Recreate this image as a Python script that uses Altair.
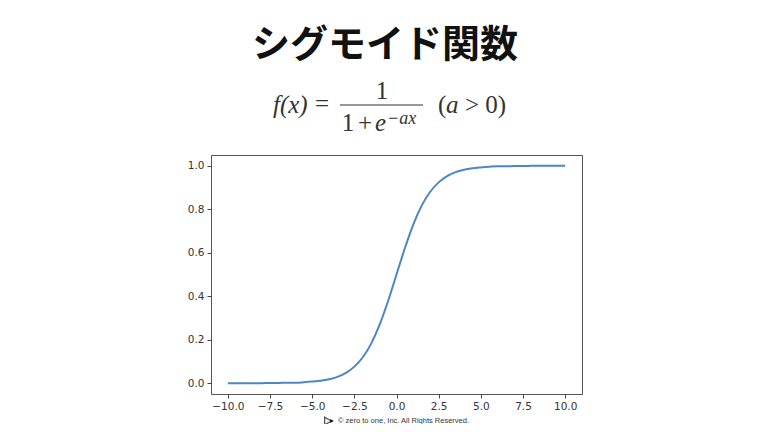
import altair as alt
import pandas as pd

# values
x_vals = [-10, -9.5, -9, -8.5, -8, -7.5, -7, -6.5, -6, -5.5, -5, -4.5, -4, -3.5, -3,
          -2.5, -2, -1.5, -1, -0.5, 0, 0.5, 1, 1.5, 2, 2.5, 3, 3.5, 4, 4.5, 5,
          5.5, 6, 6.5, 7, 7.5, 8, 8.5, 9, 9.5, 10]
y_vals = [0.000, 0.000, 0.000, 0.000, 0.000, 0.001, 0.001, 0.002, 0.002, 0.004, 0.007,
          0.011, 0.018, 0.029, 0.047, 0.076, 0.119, 0.182, 0.269, 0.378, 0.500,
          0.622, 0.731, 0.818, 0.881, 0.924, 0.953, 0.971, 0.982, 0.989, 0.993,
          0.996, 0.998, 0.998, 0.999, 0.999, 1.000, 1.000, 1.000, 1.000, 1.000]
x_ticks = [-10, -7.5, -5, -2.5, 0, 2.5, 5, 7.5, 10]
y_ticks = [0.0, 0.2, 0.4, 0.6, 0.8, 1.0]
title_text = "シグモイド関数"
footer_text = "©  zero to one, Inc. All Rights Reserved."

df = pd.DataFrame({"x": x_vals, "y": y_vals})

W, H = 371, 239

line = alt.Chart(df).mark_line(color="#4a86c8", strokeWidth=2, interpolate="monotone").encode(
    x=alt.X("x:Q", scale=alt.Scale(domain=[-11, 11], nice=False, zero=False),
            axis=alt.Axis(values=x_ticks, format=".1f", title=None,
                          labelExpr="replace(format(datum.value, '.1f'), '-', '\u2212')")),
    y=alt.Y("y:Q", scale=alt.Scale(domain=[-0.05, 1.05], nice=False, zero=False),
            axis=alt.Axis(values=y_ticks, format=".1f", title=None)),
)

one = pd.DataFrame({"a": [0]})


def txt(text, x, y, size, font="Liberation Serif", style="normal", weight="normal",
        align="left", color="#333333"):
    return alt.Chart(one).mark_text(
        text=text, font=font, fontSize=size, fontStyle=style, fontWeight=weight,
        align=align, baseline="alphabetic", color=color,
    ).encode(x=alt.value(x), y=alt.value(y))


FS = 25
title = txt(title_text, 174, -98, 38, font="Noto Sans CJK JP", weight="bold",
            align="center", color="#111111")

f_part = txt("f(x)", 62, -42, FS, style="italic")
eq = txt("=", 111, -43, FS, align="center")
num = txt("1", 171, -56, FS, align="center")
bar = alt.Chart(one).mark_rule(color="#333333", strokeWidth=1.2).encode(
    x=alt.value(129), x2=alt.value(212), y=alt.value(-50))
den1 = txt("1", 137, -24, FS, align="center")
den_plus = txt("+", 154, -24, FS, align="center")
den_e = txt("e", 164, -24, FS, style="italic")
sup = txt("\u2212ax", 176, -31, 18, style="italic")
p1 = txt("(", 227, -42, FS)
pa = txt("a", 235, -42, FS, style="italic")
p2 = txt("> 0)", 254, -42, FS)

logo_o = alt.Chart(one).mark_point(shape="triangle-right", filled=False, stroke="#111111",
                                   strokeWidth=1.3, size=60).encode(
    x=alt.value(117), y=alt.value(266))
logo_f = alt.Chart(one).mark_point(shape="triangle-right", filled=True, color="#111111",
                                   size=18, opacity=1).encode(
    x=alt.value(121), y=alt.value(266))
footer = txt(footer_text, 127, 268, 7.5, font="Liberation Sans", color="#333333")

chart = alt.layer(
    line, title, f_part, eq, num, bar, den1, den_plus, den_e, sup, p1, pa, p2,
    logo_o, logo_f, footer
).properties(
    width=W, height=H,
    autosize=alt.AutoSizeParams(type="none"),
    padding={"left": 203, "top": 147, "right": 178, "bottom": 30},
).configure_view(
    stroke="#555555", strokeWidth=1
).configure_axis(
    grid=False, domain=False, labelFont="DejaVu Sans", labelFontSize=10.5,
    labelColor="#333333", tickColor="#444444", tickSize=4, labelPadding=3,
)

chart.save("out.html", embed_options={"renderer": "svg", "actions": False})
